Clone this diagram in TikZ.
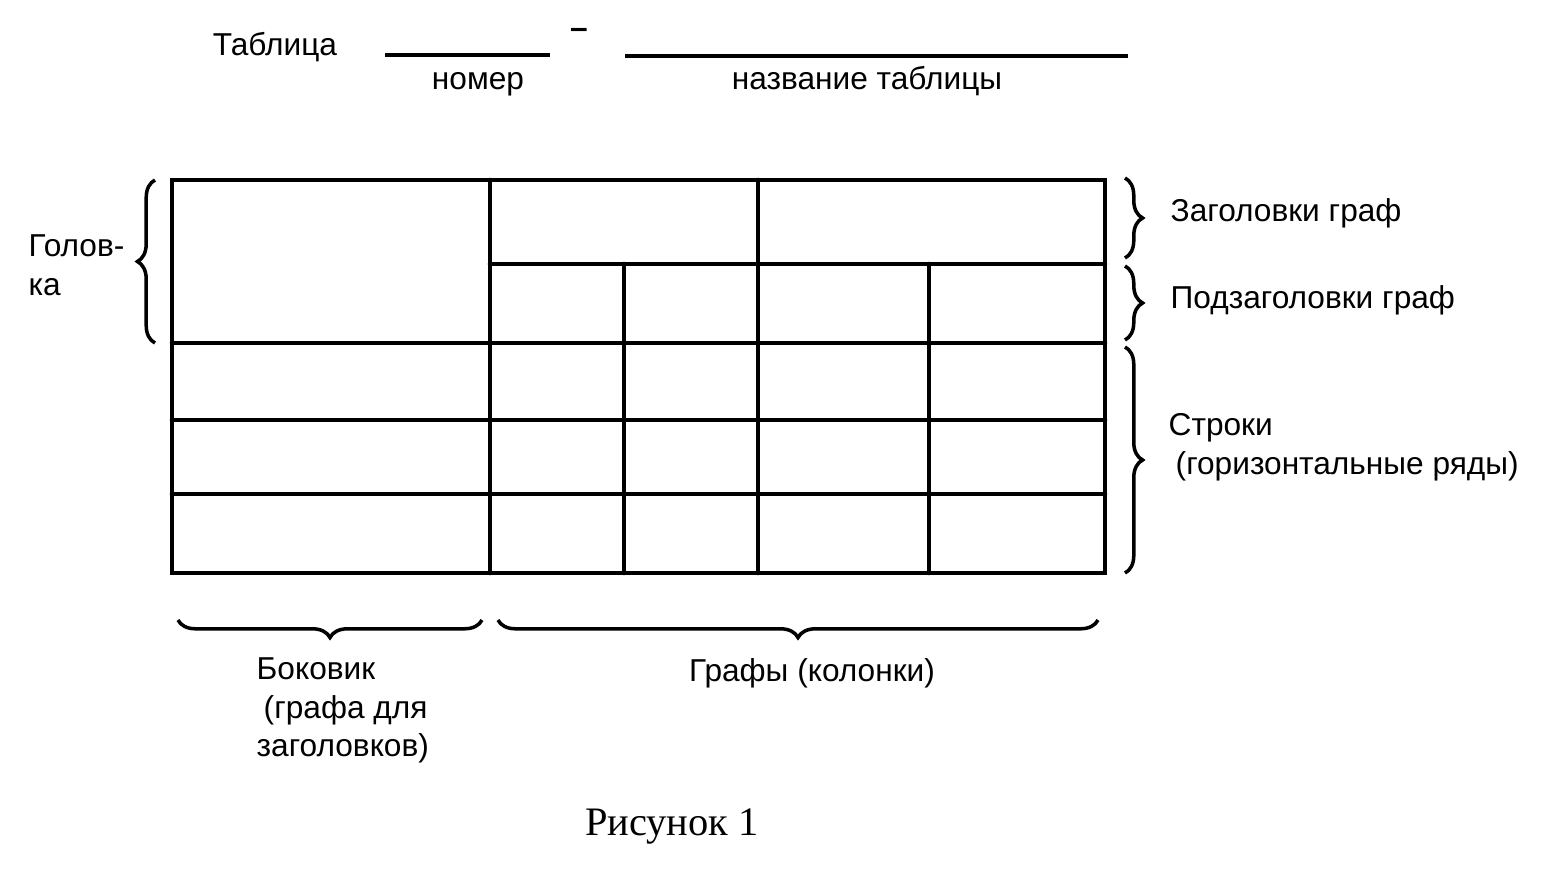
\documentclass[tikz,border=0pt]{standalone}
\usepackage{fontspec}
\setmainfont{Liberation Sans}
\newfontfamily\figfont{Liberation Serif}
\usetikzlibrary{decorations.pathreplacing}

\tikzstyle{grid} = [line width=1.3pt, line cap=round]
\tikzstyle{rule} = [line width=1pt]
\tikzstyle{cbrace} = [line width=1pt, decorate, decoration={brace, amplitude=5pt}]
\tikzstyle{lbl} = [font=\fontsize{9}{11}\selectfont, inner sep=0pt]

\begin{document}
\begin{tikzpicture}[x=0.01cm, y=-0.01cm]
	\useasboundingbox (0,0) rectangle (1547,869);
	
	\def \bx {1125}
	\def \by {620}
	
	%title line
	\node (tab) [lbl, anchor=base] at (275,55) {Таблица};
	\coordinate (num a) at (385,55);
	\coordinate (num b) at (550,55);
	\draw [rule] (num a) -- (num b);
	\node (num) [lbl, anchor=base] at (478,89) {номер};
	\node (dash) [lbl, font=\bfseries\fontsize{9}{11}\selectfont] at (579,33) {–};
	\coordinate (name a) at (625,56);
	\coordinate (name b) at (1128,56);
	\draw [rule] (name a) -- (name b);
	\node (name) [lbl, anchor=base] at (867,89) {название таблицы};
	
	%table
	\draw [grid] (172,180) rectangle (1105,573);
	\draw [grid] (490,180) -- (490,573);
	\draw [grid] (758,180) -- (758,573);
	\draw [grid] (490,264) -- (1105,264);
	\foreach \x in {624,929}
		\draw [grid] (\x,264) -- (\x,573);
	\foreach \y in {343,420,494}
		\draw [grid] (172,\y) -- (1105,\y);
	
	%braces
	\coordinate (head top) at (155,180);
	\coordinate (head bot) at (155,343);
	\coordinate (cap top) at (\bx,178);
	\coordinate (cap bot) at (\bx,258);
	\coordinate (sub top) at (\bx,266);
	\coordinate (sub bot) at (\bx,340);
	\coordinate (row top) at (\bx,347);
	\coordinate (row bot) at (\bx,573);
	\coordinate (side l) at (178,\by);
	\coordinate (side r) at (482,\by);
	\coordinate (col l) at (498,\by);
	\coordinate (col r) at (1098,\by);
	\draw [cbrace] (head bot) -- (head top);
	\draw [cbrace] (cap top) -- (cap bot);
	\draw [cbrace] (sub top) -- (sub bot);
	\draw [cbrace] (row top) -- (row bot);
	\draw [cbrace] (side r) -- (side l);
	\draw [cbrace] (col r) -- (col l);
	
	%labels
	\node (golovka) [lbl, anchor=west, align=left] at (28,265) {Голов-\\ка};
	\node (cap) [lbl, anchor=west] at (1170,213) {Заголовки граф};
	\node (sub) [lbl, anchor=west] at (1170,300) {Подзаголовки граф};
	\node (rows) [lbl, anchor=west, align=left] at (1168,447) {Строки\\\hspace*{2pt}(горизонтальные ряды)};
	\node (side) [lbl, anchor=north west, align=left] at (256,657) {Боковик\\\hspace*{2pt}(графа для\\заголовков)};
	\node (cols) [lbl] at (812,673) {Графы (колонки)};
	\node (fig) [font=\figfont\fontsize{11.5}{14}\selectfont] at (672,827) {Рисунок 1};
	
\end{tikzpicture}
\end{document}
